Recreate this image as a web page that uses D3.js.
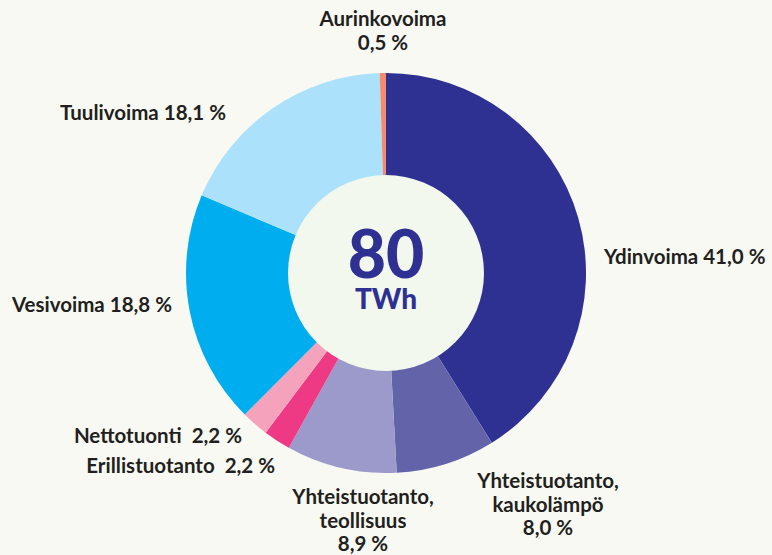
<!DOCTYPE html>
<meta charset="UTF-8"/>
<style>
  body { margin: 0; background: #f7f9f2; }
  * { font-family: 'Lato', sans-serif; }
  text { white-space: pre; }
</style>
<svg width="772" height="555"></svg>
<script src="https://d3js.org/d3.v7.min.js"></script>
<script>
// data, clockwise from 12 o'clock
var sources = ["Ydinvoima", "Yhteistuotanto, kaukolämpö", "Yhteistuotanto, teollisuus",
               "Erillistuotanto", "Nettotuonti", "Vesivoima", "Tuulivoima", "Aurinkovoima"];
var shares = [41.0, 8.0, 8.9, 2.2, 2.2, 18.8, 18.1, 0.5];
var colors = ["#2e3192", "#6363aa", "#9c9acb", "#ee3a84", "#f5a3bc", "#00aeef", "#abe1fa", "#f58a6d"];
var total = "80";
var unit = "TWh";

var svg = d3.select("svg"),
    cx = 386, cy = 273,
    outer = 200, inner = 98;

svg.append("rect").attr("width", 772).attr("height", 555).attr("fill", "#f7f9f2");

var g = svg.append("g").attr("transform", "translate(" + cx + "," + cy + ")");

var pie = d3.pie().sort(null).value(function(d) { return d; });
var arc = d3.arc().innerRadius(0).outerRadius(outer);

g.selectAll("path")
    .data(pie(shares))
  .enter().append("path")
    .attr("d", arc)
    .attr("fill", function(d, i) { return colors[i]; });

g.append("circle")
    .attr("r", inner)
    .attr("fill", "#f2f8ed");

g.append("text")
    .attr("text-anchor", "middle")
    .attr("y", 5)
    .attr("fill", "#2e3192")
    .style("font-size", "66px")
    .style("font-weight", "900")
    .text(total);

g.append("text")
    .attr("text-anchor", "middle")
    .attr("y", 36)
    .attr("fill", "#2e3192")
    .style("font-size", "28px")
    .style("font-weight", "900")
    .text(unit);

function pct(v) { return v.toFixed(1).replace(".", ",") + " %"; }

// label layout: lines, anchor, x, first baseline
var labels = [
  { lines: [sources[0] + " " + pct(shares[0])], anchor: "start", x: 604, y: 264 },
  { lines: ["Yhteistuotanto,", "kaukolämpö", pct(shares[1])], anchor: "middle", x: 548, y: 488 },
  { lines: ["Yhteistuotanto,", "teollisuus", pct(shares[2])], anchor: "middle", x: 363, y: 504 },
  { lines: [sources[3] + "  " + pct(shares[3])], anchor: "end", x: 275, y: 473 },
  { lines: [sources[4] + "  " + pct(shares[4])], anchor: "end", x: 242, y: 443 },
  { lines: [sources[5] + " " + pct(shares[5])], anchor: "end", x: 172, y: 312 },
  { lines: [sources[6] + " " + pct(shares[6])], anchor: "end", x: 226, y: 120 },
  { lines: [sources[7], pct(shares[7])], anchor: "middle", x: 383, y: 26 }
];

labels.forEach(function(l) {
  var t = svg.append("text")
      .attr("text-anchor", l.anchor)
      .attr("fill", "#231f20")
      .style("font-size", "20.5px")
      .style("font-weight", "700");
  l.lines.forEach(function(s, i) {
    t.append("tspan").attr("x", l.x).attr("y", l.y + i * 23.5).text(s);
  });
});
</script>
